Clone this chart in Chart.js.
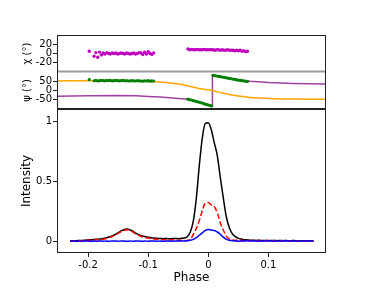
<!DOCTYPE html>
<html>
<head>
<meta charset="utf-8">
<script src="https://cdn.jsdelivr.net/npm/chart.js@4"></script>
<style>
  html, body { margin: 0; padding: 0; background: #fff; }
  #wrap { position: relative; width: 384px; height: 288px; }
  canvas { position: absolute; left: 0; }
</style>
</head>
<body>
<div id="wrap">
  <canvas id="cChi" width="384" height="74" style="top:0px"></canvas>
  <canvas id="cPsi" width="384" height="39" style="top:71px"></canvas>
  <canvas id="cInt" width="384" height="180" style="top:108px"></canvas>
</div>
<script>
// ---- data ----
const xTicks = [-0.2, -0.1, 0, 0.1];
const xTickLabels = ['-0.2', '-0.1', '0', '0.1'];
const chiTicks = [-20, 0, 20];
const psiTicks = [-50, 0, 50];
const intTicks = [0, 0.5, 1];

// polarisation points, first group (with a lone point at the start)
const phaseA = [-0.198, -0.190, -0.187, -0.184, -0.181, -0.178, -0.175, -0.172, -0.169, -0.166, -0.163,
  -0.160, -0.157, -0.154, -0.151, -0.148, -0.145, -0.142, -0.139, -0.136, -0.133,
  -0.130, -0.127, -0.124, -0.121, -0.118, -0.115, -0.112, -0.109, -0.106, -0.103,
  -0.100, -0.097, -0.094, -0.091];
const chiA = [5, -6, 2, -8, 3, -3, 1, -1, 2, 0, -1, 1, 0, 1, -1, 0, 1, 0, -1, 1, 0,
  -1, 0, 1, -1, 0, 2, 1, -2, 3, -1, 4, 0, -2, 1];
const psiA = [63, 56, 58, 55, 57, 59, 57, 56, 58, 57, 58, 56, 57, 58, 57, 56, 57, 58, 56, 57, 55,
  56, 57, 56, 55, 57, 56, 55, 54, 56, 55, 57, 54, 56, 55];

// second group, under the main peak
const phaseB = [-0.034, -0.031, -0.028, -0.025, -0.022, -0.019, -0.016, -0.013, -0.010, -0.007,
  -0.004, -0.001, 0.002, 0.005, 0.008, 0.011, 0.014, 0.017, 0.020, 0.023,
  0.026, 0.029, 0.032, 0.035, 0.038, 0.041, 0.044, 0.047, 0.050, 0.053,
  0.056, 0.059, 0.062, 0.065];
const chiB = [10, 8, 9, 8, 8, 9, 8, 8, 8, 9, 8, 8, 8, 8, 8, 7, 8, 8, 7, 8,
  7, 7, 8, 7, 7, 7, 6, 7, 6, 7, 5, 6, 4, 5];
const psiB = [-50, -53, -55, -58, -62, -64, -67, -70, -73, -77, -80, -83, -86, -89,
  88, 86, 84, 82, 80, 78, 76, 74, 72, 70, 68, 66, 64, 62, 60, 59, 57, 55, 54, 52];

// model curves of the position angle
const purplePhase = [-0.252, -0.2, -0.15, -0.12, -0.1, -0.08, -0.064, -0.05, -0.033, -0.02, -0.01, 0.0,
  0.0066, 0.0068, 0.02, 0.04, 0.07, 0.1, 0.14, 0.196];
const purplePsi = [-34, -30, -29, -31, -34, -38, -42, -46, -51, -62, -72, -82,
  -89, 89, 80, 66, 54, 46, 41, 38];
const orangePhase = [-0.252, -0.2, -0.15, -0.12, -0.09, -0.064, -0.05, -0.031, -0.015, 0.007,
  0.02, 0.047, 0.07, 0.103, 0.14, 0.196];
const orangePsi = [55, 57, 57, 56, 50, 44, 38, 25, 12, 0, -12, -31, -40, -46, -49, -51];

// pulse profile
const phase = [
  -0.230, -0.225, -0.220, -0.215, -0.210, -0.205, -0.200, -0.195, -0.190, -0.185,
  -0.180, -0.175, -0.170, -0.165, -0.160, -0.155, -0.150, -0.145, -0.140, -0.135,
  -0.130, -0.125, -0.120, -0.115, -0.110, -0.105, -0.100, -0.095, -0.090, -0.085,
  -0.080, -0.075, -0.070, -0.065, -0.060, -0.055, -0.050, -0.045, -0.040, -0.035,
  -0.030, -0.025, -0.020, -0.015, -0.010, -0.005, 0.000, 0.005, 0.010, 0.015,
  0.020, 0.025, 0.030, 0.035, 0.040, 0.045, 0.050, 0.055, 0.060, 0.065,
  0.070, 0.075, 0.080, 0.085, 0.090, 0.095, 0.100, 0.105, 0.110, 0.115,
  0.120, 0.125, 0.130, 0.135, 0.140, 0.145, 0.150, 0.155, 0.160, 0.165,
  0.170, 0.175];
const totalI = [
  0.001, 0.003, 0.002, 0.005, 0.004, 0.007, 0.009, 0.011, 0.013, 0.015,
  0.017, 0.020, 0.026, 0.033, 0.042, 0.054, 0.069, 0.084, 0.096, 0.099,
  0.092, 0.079, 0.063, 0.051, 0.042, 0.036, 0.031, 0.027, 0.024, 0.022,
  0.021, 0.019, 0.021, 0.018, 0.020, 0.021, 0.019, 0.022, 0.025, 0.036,
  0.075, 0.165, 0.355, 0.630, 0.860, 0.980, 0.985, 0.925, 0.815, 0.710,
  0.525, 0.355, 0.200, 0.110, 0.060, 0.036, 0.022, 0.016, 0.011, 0.009,
  0.007, 0.006, 0.005, 0.006, 0.004, 0.005, 0.003, 0.004, 0.005, 0.003,
  0.004, 0.003, 0.004, 0.002, 0.004, 0.003, 0.002, 0.003, 0.002, 0.003,
  0.002, 0.002];
const linearL = [
  0.000, 0.001, 0.002, 0.002, 0.003, 0.004, 0.005, 0.006, 0.008, 0.010,
  0.012, 0.015, 0.021, 0.029, 0.038, 0.050, 0.064, 0.079, 0.090, 0.093,
  0.087, 0.073, 0.058, 0.046, 0.036, 0.029, 0.024, 0.019, 0.016, 0.014,
  0.012, 0.011, 0.011, 0.009, 0.010, 0.008, 0.007, 0.006, 0.005, 0.005,
  0.014, 0.055, 0.105, 0.170, 0.255, 0.315, 0.320, 0.300, 0.285, 0.235,
  0.150, 0.090, 0.040, 0.016, 0.008, 0.006, 0.005, 0.004, 0.005, 0.004,
  0.003, 0.004, 0.003, 0.004, 0.002, 0.003, 0.004, 0.002, 0.003, 0.002,
  0.003, 0.002, 0.003, 0.002, 0.001, 0.002, 0.003, 0.002, 0.001, 0.002,
  0.001, 0.002];
const circularV = [
  -0.002, 0.001, -0.003, 0.000, -0.002, 0.001, -0.001, -0.003, 0.000, -0.002,
  0.001, -0.002, 0.000, -0.003, 0.001, -0.001, -0.002, 0.000, -0.001, -0.003,
  0.000, -0.002, 0.001, -0.001, -0.003, 0.000, -0.002, 0.001, -0.001, -0.002,
  0.000, -0.003, -0.001, 0.001, -0.002, 0.000, -0.001, 0.001, 0.000, 0.002,
  0.006, 0.014, 0.028, 0.048, 0.068, 0.088, 0.096, 0.091, 0.087, 0.075,
  0.055, 0.032, 0.014, 0.006, 0.003, 0.001, -0.002, 0.001, -0.001, 0.002,
  -0.001, 0.001, 0.000, -0.002, 0.001, -0.001, 0.002, 0.000, -0.002, 0.001,
  0.000, -0.001, 0.002, -0.001, 0.000, 0.001, -0.002, 0.000, 0.001, -0.001,
  0.000, -0.001];

const xMin = -0.2517, xMax = 0.1957;

Chart.defaults.font.family = 'DejaVu Sans';
Chart.defaults.color = '#000';
Chart.defaults.animation = false;

const pts = (xs, ys) => xs.map((x, i) => ({ x: x, y: ys[i] }));

// axes frame, each side can have its own colour
const framePlugin = {
  id: 'frame',
  afterDraw(chart, args, opts) {
    const a = chart.chartArea, ctx = chart.ctx;
    const l = Math.round(a.left) + 0.5, r = Math.round(a.right) - 0.5;
    const t = Math.round(a.top) + 0.5, b = Math.round(a.bottom) - 0.5;
    const side = (col, w, x1, y1, x2, y2) => {
      if (!col) return;
      ctx.save();
      ctx.strokeStyle = col;
      ctx.lineWidth = w || 1;
      ctx.beginPath(); ctx.moveTo(x1, y1); ctx.lineTo(x2, y2); ctx.stroke();
      ctx.restore();
    };
    side(opts.top, opts.topW, l, t, r, t);
    side(opts.bottom, opts.bottomW, l, b, r, b);
    side('#222', 1, l, t - 0.5, l, b + 0.5);
    side('#222', 1, r, t - 0.5, r, b + 0.5);
  }
};

function yAxis(min, max, ticks, title, size, pad) {
  return {
    type: 'linear', min: min, max: max,
    afterBuildTicks: s => { s.ticks = ticks.map(v => ({ value: v })); },
    afterFit: s => { s.width = 57; s.paddingTop = 0; s.paddingBottom = 0; },
    grid: { drawOnChartArea: false, tickLength: 4, color: '#222', tickColor: '#222' },
    border: { display: false },
    ticks: { padding: 1, autoSkip: false, font: { size: 10 }, callback: v => String(v) },
    title: { display: true, text: title, font: { size: size }, padding: { top: pad, bottom: 0 } }
  };
}

const hiddenX = { type: 'linear', min: xMin, max: xMax, display: false };
const common = { responsive: false, devicePixelRatio: 1, animation: false,
  plugins: { legend: { display: false }, tooltip: { enabled: false } } };

// chi panel
new Chart(document.getElementById('cChi'), {
  type: 'scatter',
  data: { datasets: [
    { data: pts(phaseA, chiA), backgroundColor: '#bf00bf', borderColor: '#bf00bf', pointRadius: 1.7, borderWidth: 0 },
    { data: pts(phaseB, chiB), backgroundColor: '#bf00bf', borderColor: '#bf00bf', pointRadius: 1.7, borderWidth: 0 }
  ] },
  options: Object.assign({}, common, {
    layout: { autoPadding: false, padding: { top: 35, bottom: 2, left: 0, right: 58 } },
    scales: { x: hiddenX, y: yAxis(-40, 40, chiTicks, '\u03c7 (\u00b0)', 10, 21) },
    plugins: Object.assign({}, common.plugins, { frame: { top: '#222', bottom: '#999', bottomW: 2 } })
  }),
  plugins: [framePlugin]
});

// psi panel
new Chart(document.getElementById('cPsi'), {
  type: 'scatter',
  data: { datasets: [
    { data: pts(phaseA, psiA), backgroundColor: '#008000', borderColor: '#008000', pointRadius: 1.6, borderWidth: 0, order: 0 },
    { data: pts(phaseB, psiB), backgroundColor: '#008000', borderColor: '#008000', pointRadius: 1.6, borderWidth: 0, order: 0 },
    { data: pts(orangePhase, orangePsi), showLine: true, borderColor: '#ffa500', borderWidth: 1.5, pointRadius: 0, cubicInterpolationMode: 'monotone', order: 1 },
    { data: pts(purplePhase, purplePsi), showLine: true, borderColor: 'rgba(128,0,128,0.75)', borderWidth: 1.5, pointRadius: 0, order: 2 }
  ] },
  options: Object.assign({}, common, {
    layout: { autoPadding: false, padding: { top: 1, bottom: 1, left: 0, right: 58 } },
    scales: { x: hiddenX, y: yAxis(-107, 107, psiTicks, '\u03c8 (\u00b0)', 10, 21) },
    plugins: Object.assign({}, common.plugins, { frame: { bottom: '#222' } })
  }),
  plugins: [framePlugin]
});

// intensity panel
new Chart(document.getElementById('cInt'), {
  type: 'scatter',
  data: { datasets: [
    { data: pts(phase, circularV), showLine: true, borderColor: '#0000ff', borderWidth: 1.5, pointRadius: 0, cubicInterpolationMode: 'monotone', order: 0 },
    { data: pts(phase, linearL), showLine: true, borderColor: '#ff0000', borderWidth: 1.5, borderDash: [5.5, 2.4], pointRadius: 0, cubicInterpolationMode: 'monotone', order: 1 },
    { data: pts(phase, totalI), showLine: true, borderColor: '#000000', borderWidth: 1.5, pointRadius: 0, cubicInterpolationMode: 'monotone', order: 2 }
  ] },
  options: Object.assign({}, common, {
    layout: { autoPadding: false, padding: { top: 1, bottom: 0, left: 0, right: 58 } },
    scales: {
      x: {
        type: 'linear', min: xMin, max: xMax,
        afterBuildTicks: s => { s.ticks = xTicks.map(v => ({ value: v })); },
        afterFit: s => { s.height = 35; s.paddingLeft = 0; s.paddingRight = 0; },
        grid: { drawOnChartArea: false, tickLength: 4, color: '#222', tickColor: '#222' },
        border: { display: false },
        ticks: { padding: 2, maxRotation: 0, autoSkip: false, font: { size: 10 }, callback: (v, i) => xTickLabels[i] },
        title: { display: true, text: 'Phase', font: { size: 12 }, padding: { top: 0, bottom: 3 } }
      },
      y: yAxis(-0.1, 1.1, intTicks, 'Intensity', 12, 20)
    },
    plugins: Object.assign({}, common.plugins, { frame: { top: '#222', bottom: '#222' } })
  }),
  plugins: [framePlugin]
});
</script>
</body>
</html>
